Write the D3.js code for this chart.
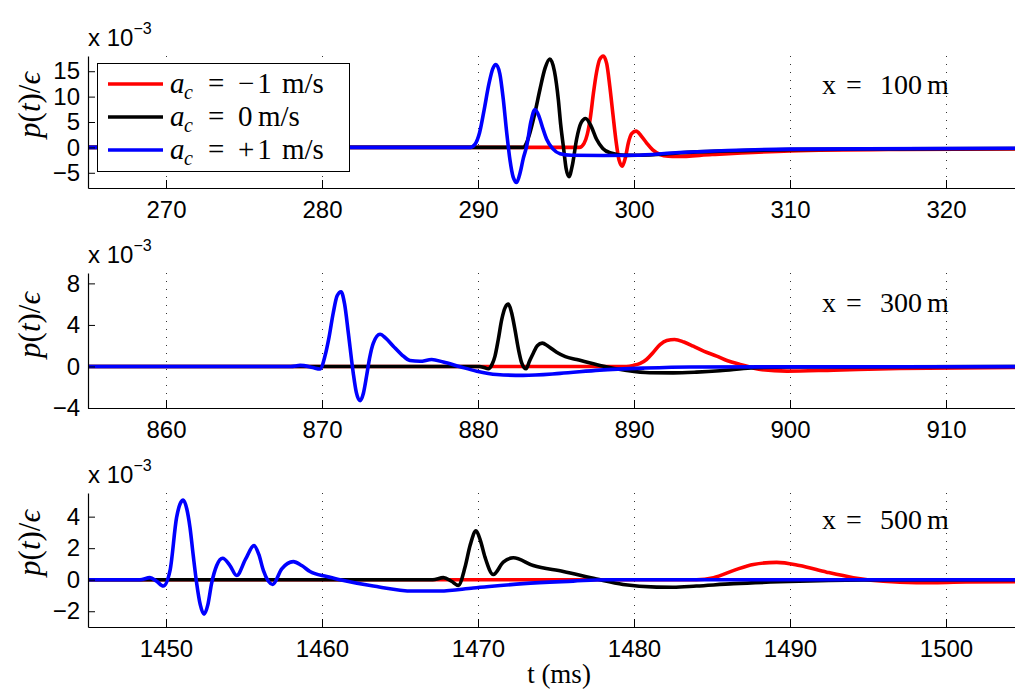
<!DOCTYPE html>
<html><head><meta charset="utf-8">
<script src="https://cdn.jsdelivr.net/npm/d3@7"></script>
<style>
body{margin:0;background:#fff;}
svg{display:block;}
.tick text{font-family:"Liberation Sans",Arial,sans-serif;font-size:24px;fill:#000;}
.serif{font-family:"Liberation Serif","DejaVu Serif",serif;fill:#000;}
</style></head>
<body>
<script>
// ---- data (pressure values in units of 1e-3) ----
const seriesNames = ["a_c = -1 m/s", "a_c = 0 m/s", "a_c = +1 m/s"];
const seriesColors = ["#ff0000", "#000000", "#0000ff"];
const legendValues = ["\u22121", "0", "+1"];

const xTicks100 = [270, 280, 290, 300, 310, 320];
const yTicks100 = [-5, 0, 5, 10, 15];
const xTicks300 = [860, 870, 880, 890, 900, 910];
const yTicks300 = [-4, 0, 4, 8];
const xTicks500 = [1450, 1460, 1470, 1480, 1490, 1500];
const yTicks500 = [-2, 0, 2, 4];

const red100 = [[265,0],[296.5,0],[296.8,0.8],[297.0,2.5],[297.2,5.8],[297.4,10.7],[297.6,14.8],[297.8,17.3],[298.03,18.0],[298.25,16.5],[298.45,12],[298.65,6.5],[298.85,1.2],[299.05,-2.6],[299.25,-3.7],[299.45,-2.0],[299.64,0.9],[299.85,2.7],[300.13,3.2],[300.45,2.3],[300.8,0.9],[301.2,-0.5],[301.67,-1.4],[302.2,-1.75],[302.74,-1.8],[305,-1.4],[310,-0.7],[317,-0.4],[325,-0.3]];
const black100 = [[265,0],[292.9,0],[293.1,0.8],[293.33,2.9],[293.65,6.8],[293.97,11.4],[294.3,15.6],[294.6,17.4],[294.9,15],[295.15,9.4],[295.3,4.5],[295.47,0.25],[295.65,-4.2],[295.83,-5.75],[296.05,-3.5],[296.32,1.6],[296.6,4.8],[296.9,5.7],[297.25,4.2],[297.6,1.6],[298.0,-0.2],[298.46,-1.05],[299.5,-1.57],[301,-1.5],[303,-1.05],[306,-0.7],[310,-0.45],[317,-0.3],[325,-0.2]];
const blue100 = [[265,0],[289.5,0],[289.8,0.6],[290.1,2.9],[290.4,7.5],[290.7,12.5],[290.95,15.5],[291.15,16.3],[291.4,14.5],[291.62,9.5],[291.84,2.9],[292.05,-2.5],[292.25,-5.8],[292.48,-6.9],[292.7,-5],[292.9,-2.2],[293.12,0.25],[293.4,5.2],[293.65,7.45],[293.9,6.2],[294.15,3.8],[294.4,1.6],[294.8,-0.3],[295.26,-1.25],[296,-1.55],[298,-1.6],[300,-1.55],[302.9,-1.0],[306,-0.6],[310,-0.35],[325,-0.15]];

const red300 = [[855,0],[889.5,0],[889.96,0.1],[890.4,0.3],[890.8,0.67],[891.2,1.3],[891.67,2.1],[892.1,2.5],[892.6,2.6],[893.2,2.35],[893.8,1.95],[894.5,1.45],[895.3,1.0],[896.0,0.55],[896.8,0.2],[898.1,-0.29],[899.8,-0.45],[902.8,-0.35],[907,-0.2],[915,-0.1]];
const black300 = [[855,0],[880.1,0],[880.4,-0.1],[880.66,-0.22],[880.9,0.2],[881.09,1.0],[881.3,2.6],[881.52,4.5],[881.75,5.7],[881.95,6.0],[882.15,5.2],[882.37,3.55],[882.6,1.6],[882.8,0.35],[883.08,-0.22],[883.3,0.5],[883.55,1.3],[883.8,2.0],[884.12,2.25],[884.5,1.95],[885.04,1.37],[885.6,0.95],[886.33,0.67],[887.82,0.1],[889.53,-0.38],[891.0,-0.6],[892.5,-0.62],[894,-0.55],[895.5,-0.42],[897.5,-0.15],[900,-0.05],[915,0]];
const blue300 = [[855,0],[868,0],[868.6,0.1],[869.4,-0.1],[869.87,-0.25],[870.19,1.0],[870.45,2.8],[870.72,5.15],[870.97,6.8],[871.22,7.2],[871.45,6.0],[871.69,3.2],[872.0,-0.6],[872.2,-2.5],[872.44,-3.3],[872.65,-2.6],[872.86,-0.9],[873.05,0.8],[873.29,2.25],[873.72,3.1],[874.1,2.7],[874.57,1.95],[875.1,1.15],[875.64,0.57],[876.28,0.5],[877.03,0.67],[877.78,0.42],[878.85,-0.03],[879.92,-0.45],[881.2,-0.77],[882.9,-0.86],[885.26,-0.67],[887.8,-0.35],[890.6,-0.16],[893.6,-0.05],[915,-0.02]];

const red500 = [[1445,0],[1484,0],[1485.1,0.13],[1486.4,0.59],[1487.65,0.97],[1489.15,1.1],[1490.6,0.9],[1492.35,0.48],[1494.06,0.13],[1495.98,-0.1],[1498.1,-0.19],[1501.3,-0.15],[1505,-0.12]];
const black500 = [[1445,0],[1467.1,0],[1467.78,0.13],[1468.3,-0.1],[1468.74,-0.36],[1469.17,0.8],[1469.5,2.2],[1469.87,3.1],[1470.15,2.5],[1470.45,1.43],[1470.98,0.33],[1471.62,1.11],[1472.26,1.39],[1473.54,0.9],[1475.47,0.52],[1477.6,0.04],[1479.3,-0.3],[1481.45,-0.47],[1482.5,-0.48],[1484,-0.4],[1486.4,-0.25],[1490.6,-0.1],[1495,-0.02],[1505,0]];
const blue500 = [[1445,0],[1448.33,0],[1448.97,0.13],[1449.4,-0.1],[1449.83,-0.4],[1450.26,0.59],[1450.68,3.95],[1450.9,4.8],[1451.11,5.05],[1451.33,4.5],[1451.54,3.3],[1451.75,1.5],[1451.97,-0.25],[1452.2,-1.6],[1452.44,-2.19],[1452.68,-1.6],[1452.92,-0.25],[1453.25,0.9],[1453.63,1.36],[1454.1,0.9],[1454.53,0.27],[1455.1,1.3],[1455.64,2.16],[1455.95,1.6],[1456.24,0.59],[1456.84,-0.3],[1457.42,0.69],[1458.16,1.15],[1458.7,0.9],[1459.23,0.52],[1460.3,0.2],[1461.15,0],[1463.29,-0.4],[1465.85,-0.72],[1467.56,-0.72],[1469.7,-0.53],[1472.9,-0.25],[1476.1,-0.09],[1478.2,0],[1505,0]];

const panelLabels = ["100", "300", "500"];

// ---- drawing ----
const W = 1015, H = 692;
const svg = d3.select("body").append("svg").attr("width", W).attr("height", H);

const panels = [
  {xd:[265,325], yd:[-8,18], top:56, bottom:188, xt:xTicks100, yt:yTicks100, series:[red100,black100,blue100], lab:panelLabels[0], labY:94, expY:46, ylabY:105},
  {xd:[855,915], yd:[-4,9], top:273, bottom:408, xt:xTicks300, yt:yTicks300, series:[red300,black300,blue300], lab:panelLabels[1], labY:312, expY:263, ylabY:325},
  {xd:[1445,1505], yd:[-3,5.5], top:493, bottom:627, xt:xTicks500, yt:yTicks500, series:[red500,black500,blue500], lab:panelLabels[2], labY:529, expY:483, ylabY:543}
];
const left = 88, right = 1024;

panels.forEach((p, i) => {
  const x = d3.scaleLinear().domain(p.xd).range([left, right]);
  const y = d3.scaleLinear().domain(p.yd).range([p.bottom, p.top]);
  const g = svg.append("g");

  // dotted grid
  g.selectAll("line.grid").data(p.xt).join("line")
    .attr("x1", d => Math.round(x(d)) + 0.5).attr("x2", d => Math.round(x(d)) + 0.5)
    .attr("y1", p.top).attr("y2", p.bottom)
    .attr("stroke", "#333").attr("stroke-width", 1).attr("stroke-dasharray", "1,7");

  // clip
  svg.append("clipPath").attr("id", "clip" + i).append("rect")
    .attr("x", left).attr("y", p.top - 5).attr("width", W - left).attr("height", p.bottom - p.top + 5);

  const line = d3.line().x(d => x(d[0])).y(d => y(d[1])).curve(d3.curveMonotoneX);
  g.append("g").attr("clip-path", `url(#clip${i})`).selectAll("path").data(p.series).join("path")
    .attr("d", line).attr("fill", "none")
    .attr("stroke", (d, k) => seriesColors[k]).attr("stroke-width", 3.6).attr("stroke-linejoin", "round");

  // axes
  const xa = g.append("g").attr("transform", `translate(0,${p.bottom})`)
    .call(d3.axisBottom(x).tickValues(p.xt).tickSizeInner(-8).tickSizeOuter(0).tickPadding(13).tickFormat(d3.format("d")));
  const ya = g.append("g").attr("transform", `translate(${left},0)`)
    .call(d3.axisLeft(y).tickValues(p.yt).tickSizeInner(-7).tickSizeOuter(0).tickPadding(8));
  [xa, ya].forEach(a => {
    a.select(".domain").attr("stroke", "#000").attr("stroke-width", 1.2);
    a.selectAll(".tick line").attr("stroke", "#000");
    a.attr("font-family", null).attr("font-size", null);
  });

  // exponent label
  const ex = svg.append("text").attr("x", left).attr("y", p.expY)
    .attr("font-family", "Liberation Sans, Arial, sans-serif").attr("font-size", 24);
  ex.append("tspan").text("x 10");
  ex.append("tspan").attr("dy", -12).attr("font-size", 16).text("\u22123");

  // y label
  const yl = svg.append("text").attr("class", "serif")
    .attr("transform", `translate(40,${p.ylabY}) rotate(-90)`)
    .attr("text-anchor", "middle").attr("font-size", 31);
  yl.append("tspan").attr("font-style", "italic").text("p");
  yl.append("tspan").text("(");
  yl.append("tspan").attr("font-style", "italic").text("t");
  yl.append("tspan").text(")/");
  yl.append("tspan").attr("font-style", "italic").text("\u03f5");

  // panel label
  const pl = svg.append("text").attr("class", "serif").attr("y", p.labY).attr("font-size", 28);
  pl.append("tspan").attr("x", 822).text("x");
  pl.append("tspan").attr("x", 846).text("=");
  pl.append("tspan").attr("x", 880).text(p.lab);
  pl.append("tspan").attr("x", 927).text("m");
});

// legend
const lg = svg.append("g");
lg.append("rect").attr("x", 97.5).attr("y", 63.5).attr("width", 252).attr("height", 108)
  .attr("fill", "#fff").attr("stroke", "#000").attr("stroke-width", 1);
const legY = [84, 117, 150];
const unitX = [282, 258, 282];
seriesNames.forEach((n, k) => {
  lg.append("line").attr("x1", 108).attr("x2", 163).attr("y1", legY[k]).attr("y2", legY[k])
    .attr("stroke", seriesColors[k]).attr("stroke-width", 3.6);
  const t = lg.append("text").attr("class", "serif").attr("y", legY[k] + 9).attr("font-size", 29);
  t.append("tspan").attr("x", 170).attr("font-style", "italic").text("a");
  t.append("tspan").attr("x", 184).attr("font-style", "italic").attr("font-size", 20).attr("dy", 6).text("c");
  t.append("tspan").attr("x", 208).attr("dy", -6).text("=");
  t.append("tspan").attr("x", 238).attr("letter-spacing", k === 1 ? 0 : 3).text(legendValues[k]);
  t.append("tspan").attr("x", unitX[k]).text("m/s");
});

// x label
svg.append("text").attr("class", "serif").attr("x", 559).attr("y", 683)
  .attr("text-anchor", "middle").attr("font-size", 27).attr("xml:space", "preserve").text("t (ms)");
</script>
</body></html>
